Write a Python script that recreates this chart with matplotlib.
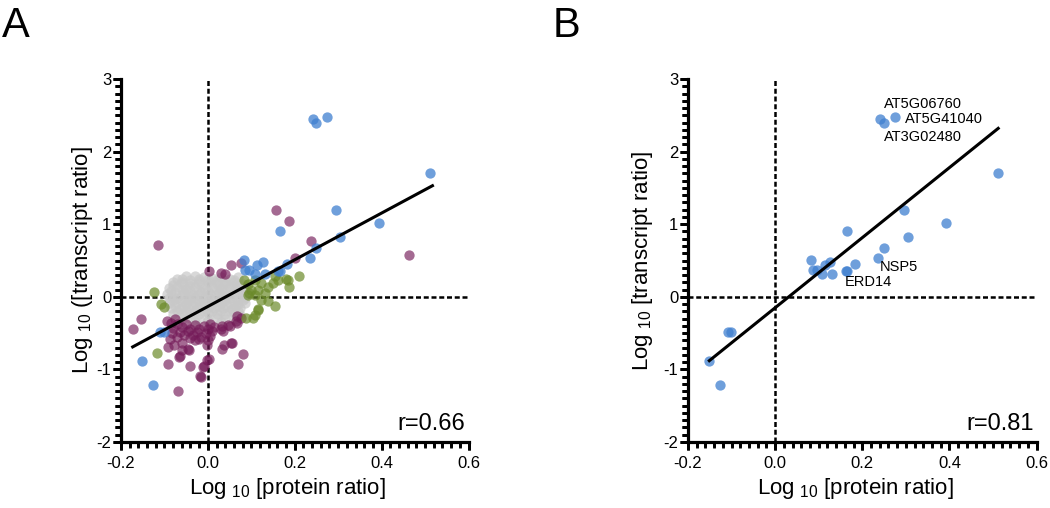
"""Protein vs transcript ratio scatter, two panels (A: all classes, B: blue subset)."""

import matplotlib

matplotlib.use("Agg")
import matplotlib.pyplot as plt  # noqa: E402
from matplotlib.ticker import MultipleLocator, FormatStrFormatter  # noqa: E402

plt.rcParams["font.family"] = ["Liberation Sans", "DejaVu Sans"]
plt.rcParams["mathtext.fontset"] = "custom"
plt.rcParams["mathtext.rm"] = "Liberation Sans"
plt.rcParams.update({
    "xtick.major.size": 6, "xtick.minor.size": 4.5,
    "ytick.major.size": 6, "ytick.minor.size": 4.5,
    "xtick.major.width": 2.0, "xtick.minor.width": 2.0,
    "ytick.major.width": 2.0, "ytick.minor.width": 2.0,
    "xtick.major.pad": 4, "ytick.major.pad": 1,
    "xtick.labelsize": 12, "ytick.labelsize": 12,
})

# --- data (log10 protein ratio, log10 transcript ratio) ---
blue_x = [-0.151, -0.127, -0.109, -0.102, 0.083, 0.086, 0.095, 0.108, 0.114,
          0.126, 0.131, 0.165, 0.162, 0.166, 0.183, 0.236, 0.250, 0.241,
          0.250, 0.274, 0.295, 0.305, 0.393, 0.512]
blue_y = [-0.88, -1.21, -0.49, -0.48, 0.51, 0.37, 0.37, 0.31, 0.44,
          0.48, 0.32, 0.90, 0.35, 0.35, 0.45, 0.54, 0.67, 2.45,
          2.39, 2.48, 1.19, 0.83, 1.02, 1.71]

purple_x = [-0.114, -0.172, -0.154, 0.156, 0.186, 0.237, 0.200, 0.462,
            0.003, 0.030, 0.040, 0.053, 0.077,
            -0.092, -0.091, -0.064, -0.068, -0.040, -0.018, -0.008, 0.002,
            -0.002, 0.069, 0.081, 0.055, 0.038, 0.032, -0.086, -0.078,
            -0.059, -0.045, -0.029, 0.068, 0.068, 0.050, 0.032, 0.035,
            0.077, 0.046, 0.030, -0.094, -0.082, -0.059, -0.043, -0.067,
            -0.012, -0.001, -0.016, 0.053, 0.065,
            -0.070, -0.060, -0.050, -0.040, -0.030, -0.020, -0.010, 0.000,
            0.005, -0.065, -0.055, -0.045, -0.035, -0.025, -0.015, -0.005,
            0.005, -0.070, -0.040, -0.020, 0.000, -0.080, -0.085, 0.010,
            0.015, -0.075]
purple_y = [0.72, -0.44, -0.31, 1.19, 1.05, 0.77, 0.53, 0.58,
            0.36, 0.33, 0.31, 0.44, 0.47,
            -0.69, -0.92, -0.82, -1.30, -0.95, -1.09, -0.95, -0.85,
            -0.67, -0.92, -0.79, -0.64, -0.66, -0.72, -0.58, -0.66,
            -0.63, -0.72, -0.59, -0.27, -0.36, -0.40, -0.40, -0.47,
            -0.29, -0.39, -0.45, -0.34, -0.50, -0.73, -0.73, -0.83,
            -0.96, -0.87, -1.10, -0.64, -0.34,
            -0.38, -0.42, -0.37, -0.44, -0.39, -0.45, -0.40, -0.44,
            -0.38, -0.48, -0.52, -0.47, -0.53, -0.49, -0.55, -0.50,
            -0.54, -0.55, -0.57, -0.58, -0.60, -0.43, -0.36, -0.47,
            -0.41, -0.31]

green_x = [-0.123, -0.108, -0.102, -0.117, 0.210, 0.184, 0.187, 0.154,
           0.162, 0.150, 0.139, 0.123, 0.131, 0.116, 0.100, 0.092, 0.108,
           0.123, 0.139, 0.116, 0.108, 0.088, 0.104, 0.084, 0.092, 0.108,
           0.154, 0.095, 0.115, 0.181]
green_y = [0.064, -0.105, -0.14, -0.77, 0.29, 0.23, 0.13, -0.13,
           0.23, 0.19, 0.14, 0.19, 0.05, 0.10, 0.10, 0.03, 0.03,
           -0.04, -0.06, -0.18, -0.25, -0.29, -0.29, 0.23, 0.17, 0.23,
           0.28, 0.055, -0.165, 0.24]

gray_x = [-0.05, -0.03, -0.01, 0.01, -0.07, 0.03, 0.05, 0.07,
          -0.08, -0.06, -0.04, -0.02, 0.00, 0.02, 0.04, 0.06, 0.08,
          -0.09, -0.07, -0.05, -0.03, -0.01, 0.01, 0.03, 0.05, 0.07, 0.085,
          -0.095, -0.075, -0.055, -0.035, -0.015, 0.005, 0.025, 0.045, 0.065, 0.08,
          -0.09, -0.07, -0.05, -0.03, -0.01, 0.01, 0.03, 0.05, 0.07, 0.085,
          -0.09, -0.07, -0.05, -0.03, -0.01, 0.01, 0.03, 0.05, 0.07, 0.085,
          -0.085, -0.065, -0.045, -0.025, -0.005, 0.015, 0.035, 0.055, 0.075,
          -0.08, -0.06, -0.04, -0.02, 0.00, 0.02, 0.04, 0.06, 0.075,
          -0.06, -0.04, -0.02, 0.00, 0.02, 0.04, 0.06,
          -0.03, 0.00, 0.03,
          -0.06, -0.04, -0.02, 0.00, 0.02, 0.04, 0.06,
          -0.08, -0.06, -0.04, -0.02, 0.00, 0.02, 0.04, 0.06, 0.075,
          -0.085, -0.06, -0.04, -0.02, 0.00, 0.02, 0.04, 0.06, 0.08,
          -0.08, -0.06, -0.04, -0.02, 0.00, 0.02, 0.04, 0.06, 0.08,
          -0.08, -0.06, -0.04, -0.02, 0.00, 0.02, 0.04, 0.06, 0.08,
          -0.075, -0.055, -0.035, -0.015, 0.005, 0.025, 0.045, 0.065,
          -0.07, -0.05, -0.03, -0.01, 0.01, 0.03, 0.05, 0.07]
gray_y = [0.28, 0.29, 0.27, 0.26, 0.25, 0.27, 0.25, 0.27,
          0.20, 0.21, 0.19, 0.22, 0.20, 0.21, 0.19, 0.20, 0.18,
          0.12, 0.13, 0.11, 0.14, 0.12, 0.13, 0.11, 0.14, 0.12, 0.10,
          0.04, 0.06, 0.05, 0.03, 0.06, 0.04, 0.06, 0.03, 0.05, 0.04,
          -0.02, -0.01, -0.03, -0.02, -0.01, -0.03, -0.02, -0.01, -0.03, -0.02,
          -0.09, -0.08, -0.10, -0.09, -0.08, -0.10, -0.09, -0.08, -0.10, -0.09,
          -0.16, -0.17, -0.15, -0.16, -0.17, -0.15, -0.16, -0.17, -0.15,
          -0.23, -0.22, -0.24, -0.23, -0.22, -0.24, -0.23, -0.22, -0.25,
          -0.30, -0.29, -0.31, -0.30, -0.29, -0.31, -0.30,
          -0.35, -0.34, -0.35,
          0.24, 0.23, 0.25, 0.24, 0.23, 0.22, 0.23,
          0.16, 0.17, 0.15, 0.17, 0.16, 0.17, 0.16, 0.15, 0.16,
          0.08, 0.09, 0.08, 0.09, 0.08, 0.09, 0.08, 0.09, 0.08,
          0.01, 0.02, 0.01, 0.02, 0.01, 0.02, 0.01, 0.02, 0.01,
          -0.05, -0.06, -0.05, -0.06, -0.05, -0.06, -0.05, -0.06, -0.05,
          -0.12, -0.13, -0.12, -0.13, -0.12, -0.13, -0.12, -0.13,
          -0.19, -0.20, -0.19, -0.20, -0.19, -0.20, -0.19, -0.20]

# regression line end points
fit_a_x = [-0.173, 0.517]
fit_a_y = [-0.69, 1.53]
fit_b_x = [-0.151, 0.512]
fit_b_y = [-0.88, 2.32]

r_a = "r=0.66"
r_b = "r=0.81"

gene_labels = ["AT5G06760", "AT5G41040", "AT3G02480", "NSP5", "ERD14"]
gene_x = [0.250, 0.297, 0.250, 0.240, 0.160]
gene_y = [2.66, 2.45, 2.20, 0.41, 0.20]

XLIM = (-0.2, 0.6)
YLIM = (-2, 3)

BLUE = "#3f7fd0"
PURPLE = "#741a58"
GREEN = "#6b8a2a"
GRAY = "#c8c8c8"
MS = 55

XLAB = r"Log$_{\ \mathregular{10}}$ [protein ratio]"


def in_range(vals, lo, hi):
    return [v for v in vals if lo - 1e-9 <= v <= hi + 1e-9]


def comb_ticks(ax):
    """Prism-style comb ticks, drawn in data coords just outside the frame."""
    x0, x1 = XLIM
    y0, y1 = YLIM
    # tick lengths in data units (~5.5 px minor, ~8 px major)
    for step, ln in ((0.02, 0.075), (0.2, 0.11)):
        locs = in_range(MultipleLocator(step).tick_values(x0, x1), x0, x1)
        ax.vlines(locs, y0 - ln, y0, colors="black", lw=2.0,
                  clip_on=False, zorder=6)
    for step, ln in ((0.1, 0.0128), (1.0, 0.0186)):
        locs = in_range(MultipleLocator(step).tick_values(y0, y1), y0, y1)
        ax.hlines(locs, x0 - ln, x0, colors="black", lw=2.0,
                  clip_on=False, zorder=6)
    ax.set_xlim(*XLIM)
    ax.set_ylim(*YLIM)


def style_axes(ax):
    ax.set_xlim(*XLIM)
    ax.set_ylim(*YLIM)
    for side in ("top", "right"):
        ax.spines[side].set_visible(False)
    for side in ("left", "bottom"):
        ax.spines[side].set_linewidth(2.3)
    ax.xaxis.set_major_locator(MultipleLocator(0.2))
    ax.xaxis.set_minor_locator(MultipleLocator(0.02))
    ax.yaxis.set_major_locator(MultipleLocator(1))
    ax.yaxis.set_minor_locator(MultipleLocator(0.1))
    ax.xaxis.set_major_formatter(FormatStrFormatter("%.1f"))
    ax.yaxis.set_major_formatter(FormatStrFormatter("%d"))
    comb_ticks(ax)
    dash = (0, (2.0, 1.1))
    ax.axvline(0, color="black", lw=1.8, ls=dash, zorder=1)
    ax.axhline(0, color="black", lw=1.8, ls=dash, zorder=1)
    ax.set_xlabel(XLAB, fontsize=16)
    ax.xaxis.set_label_coords(0.48, -0.095)


fig = plt.figure(figsize=(10.5, 5.08), dpi=100)
ax_a = fig.add_axes([0.1152, 0.1299, 0.331, 0.7146])
ax_b = fig.add_axes([0.6552, 0.1299, 0.332, 0.7146])

# panel A
style_axes(ax_a)
ax_a.scatter(gray_x, gray_y, s=MS, color=GRAY, alpha=0.7, lw=0, zorder=2)
ax_a.scatter(purple_x, purple_y, s=MS, color=PURPLE, alpha=0.65, lw=0, zorder=3)
ax_a.scatter(green_x, green_y, s=MS, color=GREEN, alpha=0.7, lw=0, zorder=3)
ax_a.scatter(blue_x, blue_y, s=MS, color=BLUE, alpha=0.75, lw=0, zorder=3)
ax_a.plot(fit_a_x, fit_a_y, color="black", lw=2.2, zorder=5)
ax_a.text(0.593, -1.83, r_a, ha="right", va="baseline", fontsize=17)
ax_a.set_ylabel(r"Log$_{\ \mathregular{10}}$ ([transcript ratio]", fontsize=16)
ax_a.yaxis.set_label_coords(-0.075, 0.5)
ax_a.set_xlim(*XLIM)
ax_a.set_ylim(*YLIM)

# panel B
style_axes(ax_b)
ax_b.scatter(blue_x, blue_y, s=MS, color=BLUE, alpha=0.75, lw=0, zorder=3)
ax_b.plot(fit_b_x, fit_b_y, color="black", lw=2.2, zorder=5)
for lab, gx, gy in zip(gene_labels, gene_x, gene_y):
    ax_b.text(gx, gy, lab, ha="left", va="center", fontsize=10.5)
ax_b.text(0.593, -1.83, r_b, ha="right", va="baseline", fontsize=17)
ax_b.set_ylabel(r"Log$_{\ \mathregular{10}}$ [transcript ratio]", fontsize=16)
ax_b.yaxis.set_label_coords(-0.095, 0.5)
ax_b.set_xlim(*XLIM)
ax_b.set_ylim(*YLIM)

fig.text(0.002, 1 - 6 / 508, "A", fontsize=30, ha="left", va="top")
fig.text(553 / 1050, 1 - 6 / 508, "B", fontsize=30, ha="left", va="top")

fig.savefig("out.png", dpi=100)
